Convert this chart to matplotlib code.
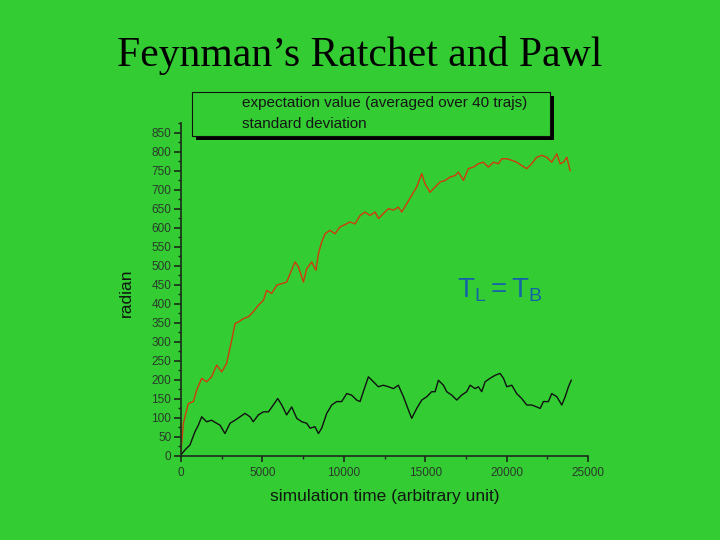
from matplotlib import pyplot as plt
from matplotlib.patches import Rectangle
from matplotlib.ticker import MultipleLocator

# values
time_mean = [0, 143, 450, 760, 960, 1270, 1575, 1880, 2190, 2500, 2800, 3110,
             3320, 3520, 3830, 4140, 4440, 4750, 5060, 5260, 5570, 5880, 6190,
             6490, 6700, 7000, 7210, 7520, 7720, 8030, 8290, 8440, 8640, 8850,
             9150, 9460, 9770, 10070, 10380, 10690, 11000, 11300, 11610, 11920,
             12130, 12430, 12740, 13050, 13350, 13560, 13870, 14170, 14480,
             14790, 14990, 15300, 15610, 15910, 16220, 16530, 16840, 17040,
             17350, 17650, 17960, 18270, 18570, 18880, 19190, 19500, 19700,
             20010, 20320, 20620, 20930, 21240, 21540, 21850, 22160, 22470,
             22770, 23080, 23290, 23490, 23700, 23900]
mean_angle = [10, 86, 138, 143, 173, 204, 195, 208, 239, 221, 243, 304, 348,
              352, 361, 366, 379, 396, 409, 435, 427, 449, 453, 457, 479, 510,
              497, 457, 492, 510, 488, 532, 562, 584, 593, 584, 602, 608, 615,
              610, 632, 641, 632, 641, 624, 637, 650, 646, 654, 641, 663, 685,
              707, 742, 715, 693, 707, 720, 724, 733, 737, 746, 724, 755, 759,
              768, 772, 759, 772, 768, 781, 781, 777, 772, 763, 755, 768, 785,
              790, 785, 772, 794, 768, 772, 785, 750]

time_std = [0, 245, 550, 860, 1065, 1270, 1575, 1880, 2190, 2400, 2700, 3010,
            3320, 3625, 3930, 4240, 4440, 4750, 5060, 5370, 5670, 5940, 6190,
            6490, 6800, 7110, 7420, 7720, 7930, 8230, 8440, 8640, 8950, 9260,
            9560, 9870, 10180, 10480, 10790, 11000, 11200, 11510, 11820, 12120,
            12430, 12740, 13050, 13350, 13660, 13970, 14170, 14480, 14790,
            15100, 15400, 15610, 15810, 16120, 16320, 16630, 16940, 17240,
            17550, 17760, 18060, 18270, 18470, 18680, 18980, 19290, 19600,
            19810, 20010, 20320, 20620, 20930, 21240, 21540, 21850, 22060,
            22260, 22570, 22770, 23080, 23390, 23600, 23800, 23970]
std_angle = [3, 16, 29, 64, 81, 103, 90, 94, 86, 81, 59, 86, 94, 103, 112, 103,
             90, 108, 116, 116, 134, 151, 134, 108, 129, 99, 90, 86, 73, 77, 59,
             73, 112, 134, 143, 143, 164, 160, 147, 143, 169, 208, 195, 182,
             186, 182, 177, 186, 156, 121, 99, 125, 147, 156, 169, 169, 199,
             186, 169, 160, 147, 160, 169, 186, 177, 182, 169, 195, 204, 212,
             217, 204, 182, 186, 164, 151, 134, 134, 129, 125, 143, 143, 164,
             156, 134, 156, 182, 199]

legend_labels = ["expectation value (averaged over 40 trajs)",
                 "standard deviation"]

GREEN = '#33cc33'
TICKCOL = '#2a3a2a'


def main():
    plt.rcParams['font.family'] = ['Liberation Sans', 'DejaVu Sans']
    plt.rcParams['mathtext.fontset'] = 'custom'
    plt.rcParams['mathtext.rm'] = 'Liberation Sans'
    plt.rcParams['mathtext.it'] = 'Liberation Sans'

    fig = plt.figure(figsize=(7.2, 5.4), dpi=100, facecolor=GREEN)
    ax = fig.add_axes([181 / 720, 1 - 456 / 540, 407 / 720, 333 / 540])
    ax.set_facecolor(GREEN)

    ax.plot(time_mean, mean_angle, color='#d03a10', lw=1.0)
    ax.plot(time_std, std_angle, color='#111111', lw=1.0)

    ax.set_xlim(0, 25000)
    ax.set_ylim(0, 875)
    ax.xaxis.set_major_locator(MultipleLocator(5000))
    ax.xaxis.set_minor_locator(MultipleLocator(2500))
    ax.yaxis.set_major_locator(MultipleLocator(50))
    ax.yaxis.set_minor_locator(MultipleLocator(25))

    for s in ['top', 'right']:
        ax.spines[s].set_visible(False)
    for s in ['left', 'bottom']:
        ax.spines[s].set_color('#1a2a1a')
        ax.spines[s].set_linewidth(1.2)

    ax.tick_params(axis='both', which='major', labelsize=8.5,
                   labelcolor=TICKCOL, color='#1a2a1a', width=1.2)
    ax.tick_params(axis='y', which='major', length=5, pad=2)
    ax.tick_params(axis='x', which='major', length=4, pad=4)
    ax.tick_params(axis='both', which='minor', length=2.5, width=1.0,
                   color='#1a2a1a')

    ax.set_xlabel("simulation time (arbitrary unit)", fontsize=12.5,
                  color='#101810')
    ax.xaxis.set_label_coords(0.5, -0.1)
    ax.set_ylabel("radian", fontsize=12.5, color='#101810')
    ax.yaxis.set_label_coords(-0.115, 0.49)

    ax.text(16950, 435, r"$\mathregular{T_L = T_B}$", fontsize=20,
            color='#1462a8', va='center', ha='left')

    # legend box with hard black shadow
    fig.patches.append(Rectangle((196 / 720, 1 - 140 / 540), 358 / 720,
                                 44 / 540, transform=fig.transFigure,
                                 facecolor='black', edgecolor='none'))
    fig.patches.append(Rectangle((192 / 720, 1 - 136 / 540), 358 / 720,
                                 44 / 540, transform=fig.transFigure,
                                 facecolor=GREEN, edgecolor='#101010',
                                 lw=0.8))
    fig.text(242 / 720, 1 - 103 / 540, legend_labels[0], fontsize=11,
             va='center', color='#151515')
    fig.text(242 / 720, 1 - 124 / 540, legend_labels[1], fontsize=11,
             va='center', color='#151515')

    fig.text(0.5, 1 - 66 / 540, "Feynman\u2019s Ratchet and Pawl",
             fontsize=30, family=['Liberation Serif', 'DejaVu Serif'],
             ha='center', va='baseline', color='#000000')

    plt.savefig('out.png', dpi=100, facecolor=GREEN)


if __name__ == "__main__":
    main()
